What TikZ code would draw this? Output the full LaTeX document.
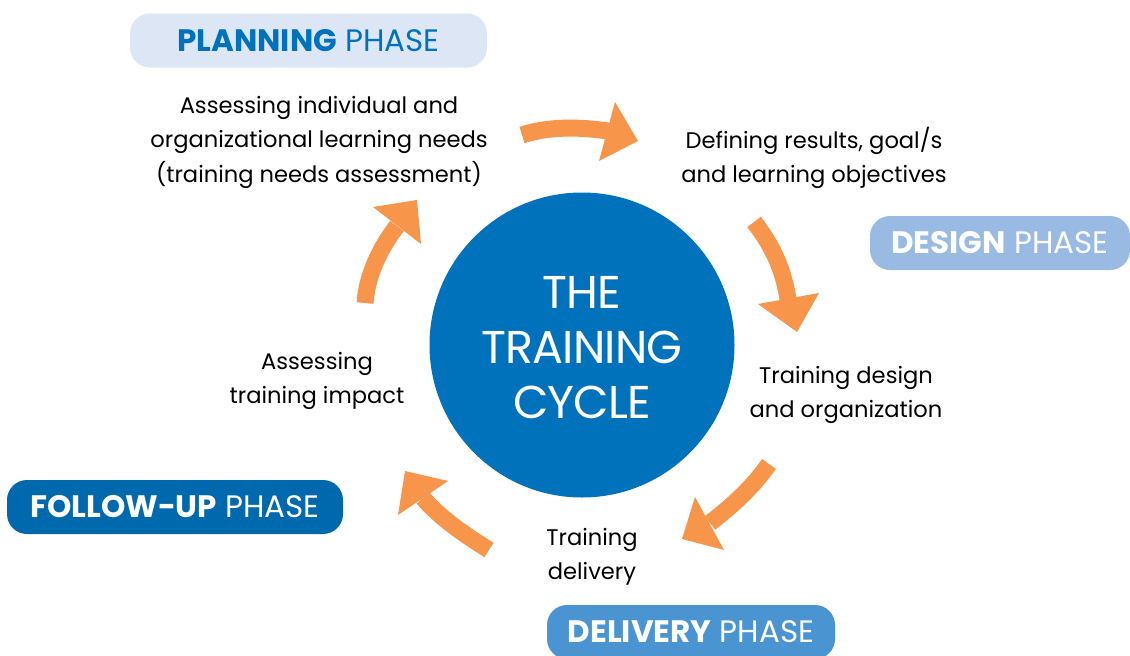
\documentclass[tikz,border=0pt]{standalone}
\usepackage{fontspec}
\setmainfont{Poppins}
\definecolor{orng}{HTML}{F7964A}
\definecolor{cblue}{HTML}{0072BC}
\definecolor{planfill}{HTML}{DCE6F5}
\definecolor{desfill}{HTML}{99BBE3}
\definecolor{folfill}{HTML}{0069AE}
\definecolor{delfill}{HTML}{4A94D1}
\begin{document}
\begin{tikzpicture}[x=1pt,y=-1pt,
  phase/.style={rounded corners=20pt,minimum height=54pt,inner sep=0pt,font=\fontsize{31}{31}\selectfont},
  body/.style={align=center,inner sep=0pt,font=\fontsize{22.6}{34.5}\selectfont},
  shaft/.style={orng,line width=17pt},
  ahead/.style={fill=orng}]
\useasboundingbox (0,0) rectangle (1130,656);
\fill[white] (0,0) rectangle (1130,656);
% circle
\node[circle,fill=cblue,minimum size=305pt,inner sep=0pt] (cyc) at (582,345) {};
\node[text=white,align=center,font=\fontsize{46}{55}\selectfont\addfontfeature{LetterSpace=-2}] (cyct) at (582,348) {THE\\TRAINING\\CYCLE};
% phases
\node[phase,fill=planfill,text=cblue,minimum width=357pt] (plan) at (308.5,40.5) {\textbf{PLANNING} PHASE};
\node[phase,fill=desfill,text=white,minimum width=260pt] (des) at (1000,243) {\textbf{DESIGN} PHASE};
\node[phase,fill=folfill,text=white,minimum width=336pt] (fol) at (175,507) {\textbf{FOLLOW-UP} PHASE};
\node[phase,fill=delfill,text=white,minimum width=288pt] (del) at (691,632) {\textbf{DELIVERY} PHASE};
% body texts
\node[body] (t1) at (319,142) {Assessing individual and\\organizational learning needs\\(training needs assessment)};
\node[body] (t2) at (814,158) {Defining results, goal/s\\and learning objectives};
\node[body] (t3) at (846,395) {Training design\\and organization};
\node[body] (t4) at (592,557) {Training\\delivery};
\node[body] (t5) at (317,381) {Assessing\\training impact};
% arrows
\coordinate (a1s) at (522,135); \coordinate (a1b) at (608,131);
\draw[shaft] (a1s) .. controls (550,126) and (580,127) .. (a1b);
\fill[ahead] (615,102) -- (638,141) -- (599,161) -- cycle;
\coordinate (a2s) at (754,222); \coordinate (a2b) at (788,299);
\draw[shaft] (a2s) .. controls (772,245) and (783,268) .. (a2b);
\fill[ahead] (758,304) -- (797,332) -- (819,293) -- cycle;
\coordinate (a3s) at (769,464); \coordinate (a3b) at (710,523);
\draw[shaft] (a3s) .. controls (752,488) and (733,505) .. (a3b);
\fill[ahead] (695,497) -- (682,539) -- (724,550) -- cycle;
\coordinate (a4s) at (489,550); \coordinate (a4b) at (423,498);
\draw[shaft] (a4s) .. controls (465,535) and (440,518) .. (a4b);
\fill[ahead] (448,481) -- (405,471) -- (398,515) -- cycle;
\coordinate (a5s) at (365,303); \coordinate (a5b) at (397,226);
\draw[shaft] (a5s) .. controls (367,275) and (380,248) .. (a5b);
\fill[ahead] (373,207) -- (417,200) -- (421,244) -- cycle;
\end{tikzpicture}
\end{document}
